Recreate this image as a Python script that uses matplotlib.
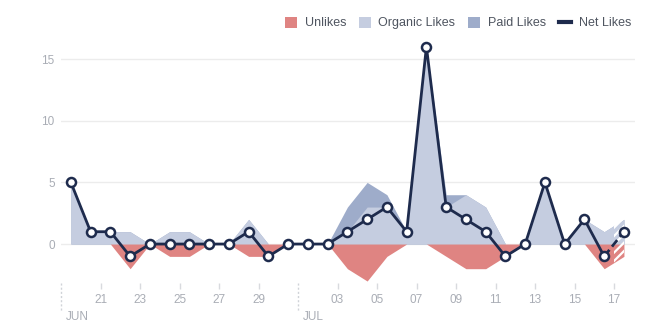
import numpy as np
import matplotlib
matplotlib.use("Agg")
from matplotlib import pyplot as plt
from matplotlib.patches import Patch
from matplotlib.lines import Line2D
import matplotlib.transforms as mtransforms

plt.rcParams['font.family'] = ['Liberation Sans', 'DejaVu Sans']
plt.rcParams['hatch.linewidth'] = 1.6

# daily values, Jun 19 .. Jul 17
days = ['06-19', '06-20', '06-21', '06-22', '06-23', '06-24', '06-25', '06-26',
        '06-27', '06-28', '06-29', '06-30', '07-01', '07-02', '07-03', '07-04',
        '07-05', '07-06', '07-07', '07-08', '07-09', '07-10', '07-11', '07-12',
        '07-13', '07-14', '07-15', '07-16', '07-17']
organic = [5, 1, 1, 1, 0, 1, 1, 0, 0, 2, 0, 0, 0, 0, 1, 3, 3, 1, 16, 3, 4, 3, 0, 0, 5, 0, 2, 1, 2]
paid = [0, 0, 0, 0, 0, 0, 0, 0, 0, 0, 0, 0, 0, 0, 2, 2, 1, 0, 0, 1, 0, 0, 0, 0, 0, 0, 0, 0, 0]
unlikes = [0, 0, 0, -2, 0, -1, -1, 0, 0, -1, -1, 0, 0, 0, -2, -3, -1, 0, 0, -1, -2, -2, -1, 0, 0, 0, 0, -2, -1]
net = [5, 1, 1, -1, 0, 0, 0, 0, 0, 1, -1, 0, 0, 0, 1, 2, 3, 1, 16, 3, 2, 1, -1, 0, 5, 0, 2, -1, 1]

tick_days = [2, 4, 6, 8, 10, 14, 16, 18, 20, 22, 24, 26, 28]
tick_labels = ['21', '23', '25', '27', '29', '03', '05', '07', '09', '11', '13', '15', '17']
months = [(0, 'JUN'), (12, 'JUL')]

RED = '#df8482'
ORGANIC = '#c5cde0'
PAID = '#9eacca'
NAVY = '#1e2b4d'
GREY = '#a9adb5'

x = np.arange(len(days)) + 0.5  # points sit at the middle of each day
organic = np.array(organic)
paid = np.array(paid)
unlikes = np.array(unlikes)

fig = plt.figure(figsize=(6.55, 3.27), dpi=100)
ax = fig.add_axes([61 / 655, 1 - 283 / 327, 574 / 655, 243 / 327])

ax.fill_between(x, 0, organic + paid, color=PAID, lw=0, zorder=2)
ax.fill_between(x, 0, organic, color=ORGANIC, lw=0, zorder=3)
ax.fill_between(x, 0, unlikes, color=RED, lw=0, zorder=3)

# last day is still in progress: hatch it
ax.fill_between([28, 28.5], -4, 4, facecolor='none', edgecolor='white',
                hatch='////', lw=0, zorder=4)

ax.plot(x[:-1], net[:-1], color=NAVY, lw=2, zorder=5)
ax.plot(x[-2:], net[-2:], color=NAVY, lw=2, ls=(0, (3, 1.5)), zorder=5)
ax.plot(x, net, ls='none', marker='o', ms=6.5, mfc='white', mec=NAVY, mew=1.8, zorder=6)

ax.set_xlim(0, 29.06)
ax.set_ylim(-3.16, 16.55)
ax.set_yticks([0, 5, 10, 15])
ax.grid(axis='y', color='#ececec', lw=1, zorder=0)
ax.tick_params(axis='y', length=0, labelsize=8.5, labelcolor=GREY, pad=4.5)
ax.set_xticks(tick_days)
ax.set_xticklabels(tick_labels)
ax.tick_params(axis='x', length=4, width=1, color='#d8dade', labelsize=8.5,
               labelcolor=GREY, pad=4)
for s in ax.spines.values():
    s.set_visible(False)

# month separators below the axis
trans = mtransforms.blended_transform_factory(ax.transData, ax.transAxes)
for pos, name in months:
    ax.plot([pos, pos], [0, -0.115], transform=trans, color='#d0d3d8', lw=1,
            ls=(0, (1.5, 1.5)), clip_on=False)
    ax.text(pos + 0.25, -0.115, name, transform=trans, ha='left', va='top',
            fontsize=8.5, color=GREY)

handles = [Patch(facecolor=RED, label='Unlikes'),
           Patch(facecolor=ORGANIC, label='Organic Likes'),
           Patch(facecolor=PAID, label='Paid Likes'),
           Line2D([], [], color=NAVY, lw=3, label='Net Likes')]
leg = fig.legend(handles=handles, loc='center right', bbox_to_anchor=(636 / 655, 1 - 23 / 327),
                 ncol=4, frameon=False, fontsize=9, handlelength=0.96, handleheight=1.0,
                 handletextpad=0.64, columnspacing=1.0, borderaxespad=0)
for t in leg.get_texts():
    t.set_color('#4f5560')

fig.savefig('out.png', dpi=100, facecolor='white')
